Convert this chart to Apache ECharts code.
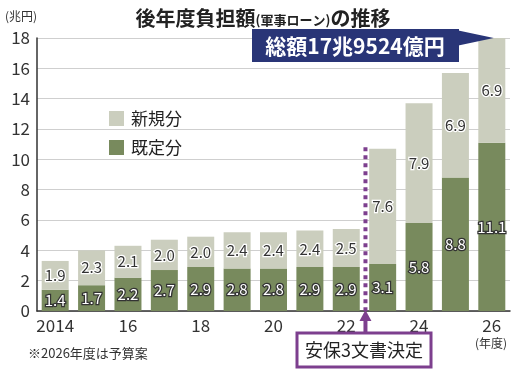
<!DOCTYPE html>
<html><head><meta charset="utf-8">
<script src="https://cdn.jsdelivr.net/npm/echarts@6/dist/echarts.min.js"></script>
<style>html,body{margin:0;padding:0;background:#fff}#c{width:523px;height:371px}</style>
</head><body><div id="c"></div>
<script>
var years = ['2014','2015','2016','2017','2018','2019','2020','2021','2022','2023','2024','2025','2026'];
var existing = [1.4,1.7,2.2,2.7,2.9,2.8,2.8,2.9,2.9,3.1,5.8,8.8,11.1];
var newPart = [1.9,2.3,2.1,2.0,2.0,2.4,2.4,2.4,2.5,7.6,7.9,6.9,6.9];
var yTicks = [0,2,4,6,8,10,12,14,16,18];
var seriesNames = ['新規分','既定分'];
var totalText = '総額17兆9524億円';
var eventText = '安保3文書決定';

var FONT = '"Noto Sans CJK JP", sans-serif';
var LIGHT = '#cbcebe', DARK = '#788a5d', PURPLE = '#7d3f8e', NAVY = '#293577';
var chart = echarts.init(document.getElementById('c'));
chart.setOption({
  animation: false,
  backgroundColor: '#fff',
  textStyle: {fontFamily: FONT},
  grid: {left: 37, right: 13, top: 38, bottom: 60},
  title: {
    text: '{b|後年度負担額}{s|(軍事ローン)}{b|の推移}',
    left: 258, textAlign: 'center', top: 3,
    textStyle: {rich: {
      b: {fontSize: 20, fontWeight: 'bold', color: '#222', fontFamily: FONT},
      s: {fontSize: 13, color: '#222', fontFamily: FONT, padding: [4,0,0,0]}
    }}
  },
  legend: {
    data: seriesNames, orient: 'vertical', left: 104, top: 105,
    icon: 'rect', itemWidth: 15, itemHeight: 15, itemGap: 12,
    textStyle: {fontSize: 17, color: '#222', fontFamily: FONT, padding: [0,0,0,2]}
  },
  xAxis: {
    type: 'category', data: years,
    axisLine: {lineStyle: {color: '#333', width: 1.5}},
    axisTick: {show: false},
    axisLabel: {interval: 0, fontSize: 17, color: '#333', margin: 6, fontFamily: FONT,
      formatter: function (v, i) { return i % 2 === 0 ? (i === 0 ? v : v.slice(2)) : ''; }}
  },
  yAxis: {
    type: 'value', min: 0, max: 18, interval: 2,
    axisLine: {show: true, lineStyle: {color: '#333', width: 1.5}},
    axisTick: {show: false},
    splitLine: {lineStyle: {color: '#cfcfcf'}},
    axisLabel: {fontSize: 17, color: '#333', margin: 7, fontFamily: FONT,
      formatter: function (v) { return yTicks.indexOf(v) >= 0 ? String(v) : ''; }}
  },
  series: [
    {name: seriesNames[1], type: 'bar', stack: 't', data: existing, barWidth: 27,
     itemStyle: {color: DARK},
     label: {show: true, position: 'inside', fontSize: 15, color: '#fff',
       textBorderColor: '#333', textBorderWidth: 2.5, fontFamily: FONT,
       formatter: function (p) { return p.value.toFixed(1); }}},
    {name: seriesNames[0], type: 'bar', stack: 't', data: newPart, barWidth: 27,
     itemStyle: {color: LIGHT},
     label: {show: true, position: 'inside', fontSize: 15, color: '#333',
       textBorderColor: '#fff', textBorderWidth: 2.5, fontFamily: FONT,
       formatter: function (p) { return p.value.toFixed(1); }}}
  ]
});

var p22 = chart.convertToPixel({xAxisIndex: 0, yAxisIndex: 0}, ['2022', 0]);
var p23 = chart.convertToPixel({xAxisIndex: 0, yAxisIndex: 0}, ['2023', 0]);
var divX = (p22[0] + p23[0]) / 2 + 1;
var topDiv = chart.convertToPixel({yAxisIndex: 0}, 10.8);
var last = years.length - 1;
var tip = chart.convertToPixel({xAxisIndex: 0, yAxisIndex: 0}, [years[last], existing[last] + newPart[last]]);

chart.setOption({graphic: [
  {type: 'text', left: 5, top: 10, style: {text: '(兆円)', fontSize: 12, fill: '#333', fontFamily: FONT}},
  {type: 'line', shape: {x1: divX, y1: topDiv, x2: divX, y2: p22[1]},
   style: {stroke: PURPLE, lineWidth: 4, lineDash: [4, 4]}, z: 10},
  {type: 'line', shape: {x1: divX, y1: 333, x2: divX, y2: 320},
   style: {stroke: PURPLE, lineWidth: 4}, z: 11},
  {type: 'polygon', shape: {points: [[divX - 6, 321], [divX + 6, 321], [divX, 310]]},
   style: {fill: PURPLE}, z: 11},
  {type: 'rect', shape: {x: 297, y: 333, width: 134, height: 34},
   style: {fill: '#fff', stroke: PURPLE, lineWidth: 3}, z: 11},
  {type: 'text', x: 364, y: 350, style: {text: eventText, fontSize: 18, fill: '#222',
   fontFamily: FONT, align: 'center', verticalAlign: 'middle'}, z: 12},
  {type: 'polygon', shape: {points: [[456, 30], [tip[0] + 2, tip[1]], [456, 46]]},
   style: {fill: NAVY}, z: 11},
  {type: 'rect', shape: {x: 252, y: 29, width: 207, height: 33},
   style: {fill: NAVY}, z: 11},
  {type: 'text', x: 355, y: 46, style: {text: totalText, fontSize: 21, fontWeight: 'bold',
   fill: '#fff', fontFamily: FONT, align: 'center', verticalAlign: 'middle'}, z: 12},
  {type: 'text', x: 491, y: 343, style: {text: '(年度)', fontSize: 12, fill: '#333',
   fontFamily: FONT, align: 'center', verticalAlign: 'middle'}},
  {type: 'text', left: 28, top: 347, style: {text: '※2026年度は予算案', fontSize: 13, fill: '#333', fontFamily: FONT}}
]});
</script></body></html>
